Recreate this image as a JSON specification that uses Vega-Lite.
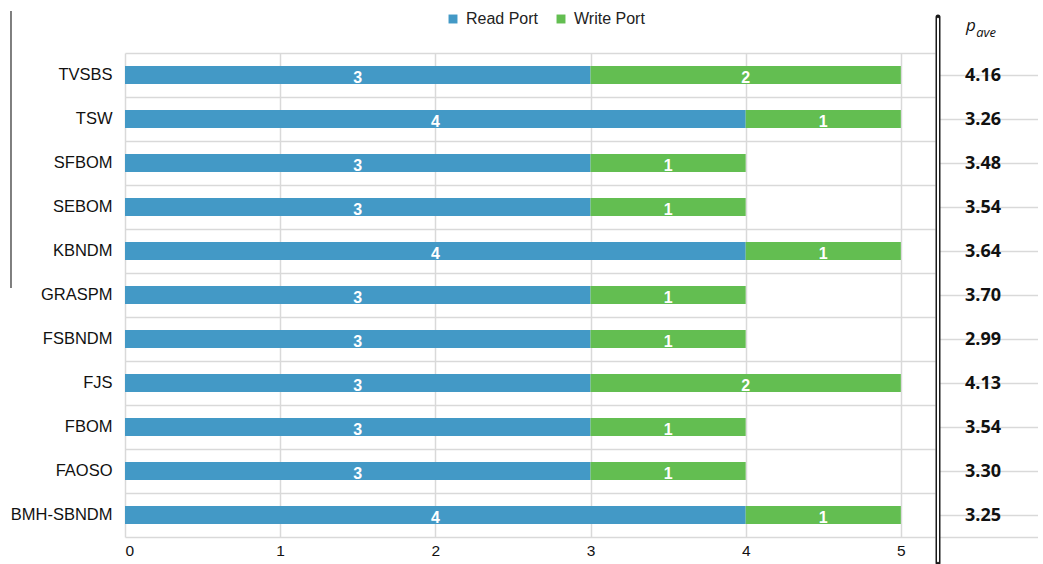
{
  "$schema": "https://vega.github.io/schema/vega-lite/v6.json",
  "background": "white",
  "padding": {"left": 10, "top": 10, "right": 0, "bottom": 0},
  "config": {
    "view": {"stroke": null},
    "font": "Liberation Sans",
    "concat": {"spacing": 0}
  },
  "datasets": {
    "ports": [
      {"algo": "TVSBS", "port": "Read Port", "ports": 3},
      {"algo": "TVSBS", "port": "Write Port", "ports": 2},
      {"algo": "TSW", "port": "Read Port", "ports": 4},
      {"algo": "TSW", "port": "Write Port", "ports": 1},
      {"algo": "SFBOM", "port": "Read Port", "ports": 3},
      {"algo": "SFBOM", "port": "Write Port", "ports": 1},
      {"algo": "SEBOM", "port": "Read Port", "ports": 3},
      {"algo": "SEBOM", "port": "Write Port", "ports": 1},
      {"algo": "KBNDM", "port": "Read Port", "ports": 4},
      {"algo": "KBNDM", "port": "Write Port", "ports": 1},
      {"algo": "GRASPM", "port": "Read Port", "ports": 3},
      {"algo": "GRASPM", "port": "Write Port", "ports": 1},
      {"algo": "FSBNDM", "port": "Read Port", "ports": 3},
      {"algo": "FSBNDM", "port": "Write Port", "ports": 1},
      {"algo": "FJS", "port": "Read Port", "ports": 3},
      {"algo": "FJS", "port": "Write Port", "ports": 2},
      {"algo": "FBOM", "port": "Read Port", "ports": 3},
      {"algo": "FBOM", "port": "Write Port", "ports": 1},
      {"algo": "FAOSO", "port": "Read Port", "ports": 3},
      {"algo": "FAOSO", "port": "Write Port", "ports": 1},
      {"algo": "BMH-SBNDM", "port": "Read Port", "ports": 4},
      {"algo": "BMH-SBNDM", "port": "Write Port", "ports": 1}
    ],
    "pave": [
      {"algo": "TVSBS", "pave": 4.16},
      {"algo": "TSW", "pave": 3.26},
      {"algo": "SFBOM", "pave": 3.48},
      {"algo": "SEBOM", "pave": 3.54},
      {"algo": "KBNDM", "pave": 3.64},
      {"algo": "GRASPM", "pave": 3.70},
      {"algo": "FSBNDM", "pave": 2.99},
      {"algo": "FJS", "pave": 4.13},
      {"algo": "FBOM", "pave": 3.54},
      {"algo": "FAOSO", "pave": 3.30},
      {"algo": "BMH-SBNDM", "pave": 3.25}
    ]
  },
  "hconcat": [
    {
      "width": 810,
      "height": 484,
      "resolve": {"scale": {"y": "independent"}},
      "layer": [
        {
          "layer": [
            {
              "data": {"name": "ports"},
              "mark": {"type": "bar", "size": 18},
              "encoding": {
                "y": {
                  "field": "algo", "type": "nominal",
                  "sort": ["TVSBS", "TSW", "SFBOM", "SEBOM", "KBNDM", "GRASPM", "FSBNDM", "FJS", "FBOM", "FAOSO", "BMH-SBNDM"],
                  "scale": {"paddingInner": 0, "paddingOuter": 0},
                  "axis": {
                    "title": null, "domain": false, "ticks": false, "grid": true, "bandPosition": 0,
                    "gridColor": "#d9d9d9", "gridWidth": 1.5,
                    "labelFontSize": 16.5, "labelColor": "#111", "labelPadding": 13
                  }
                },
                "x": {
                  "field": "ports", "type": "quantitative", "stack": "zero",
                  "scale": {"domain": [0, 5.22], "nice": false},
                  "axis": {
                    "title": null, "values": [0, 1, 2, 3, 4, 5], "format": "d",
                    "ticks": false, "grid": true, "gridColor": "#d9d9d9", "gridWidth": 1.5,
                    "domain": true, "domainColor": "#d9d9d9", "domainWidth": 1.5,
                    "labelFontSize": 15.5, "labelColor": "#111", "labelPadding": 6
                  }
                },
                "color": {
                  "field": "port", "type": "nominal",
                  "scale": {"domain": ["Read Port", "Write Port"], "range": ["#4399C6", "#63BE51"]},
                  "legend": {
                    "orient": "none", "legendX": 320, "legendY": -42, "direction": "horizontal",
                    "title": null, "symbolType": "square", "symbolSize": 80, "symbolStrokeWidth": 0,
                    "labelFontSize": 16, "labelColor": "#222", "columnPadding": 14, "labelOffset": 5
                  }
                }
              }
            },
            {
              "data": {"name": "ports"},
              "transform": [
                {"stack": "ports", "groupby": ["algo"], "sort": [{"field": "port", "order": "ascending"}], "as": ["p0", "p1"]},
                {"fold": ["p0", "p1"], "as": ["edge", "pos"]},
                {"aggregate": [{"op": "mean", "field": "pos", "as": "mid"}], "groupby": ["algo", "port", "ports"]}
              ],
              "mark": {"type": "text", "color": "white", "fontWeight": "bold", "fontSize": 16, "baseline": "middle", "dy": 3},
              "encoding": {
                "y": {"field": "algo", "type": "nominal", "sort": ["TVSBS", "TSW", "SFBOM", "SEBOM", "KBNDM", "GRASPM", "FSBNDM", "FJS", "FBOM", "FAOSO", "BMH-SBNDM"]},
                "x": {"field": "mid", "type": "quantitative"},
                "text": {"field": "ports", "type": "quantitative"}
              }
            }
          ]
        },
        {
          "data": {"values": [{"edge": "left"}]},
          "mark": {"type": "rule", "color": "#555", "strokeWidth": 1.5, "clip": false},
          "encoding": {
            "x": {"datum": -0.7347, "type": "quantitative"},
            "y": {"datum": 0.5145, "type": "quantitative", "scale": {"domain": [0, 1], "nice": false}, "axis": null},
            "y2": {"datum": 1.0868}
          }
        }
      ]
    },
    {
      "width": 100,
      "height": 484,
      "title": {
        "text": "p", "subtitle": "\u200b\u00a0\u00a0\u00a0ave",
        "anchor": "start", "frame": "group", "dx": 28,
        "font": "Open Sans", "fontSize": 17, "fontStyle": "italic", "fontWeight": "normal", "color": "#111",
        "subtitleFont": "Open Sans", "subtitleFontSize": 13, "subtitleFontStyle": "italic", "subtitleColor": "#111",
        "subtitlePadding": -8, "offset": -27
      },
      "resolve": {"scale": {"y": "independent"}},
      "layer": [
        {
          "data": {"name": "pave"},
          "mark": {"type": "text", "font": "Open Sans", "fontWeight": "bold", "fontSize": 18, "color": "#111", "baseline": "middle", "dy": 1},
          "encoding": {
            "y": {
              "field": "algo", "type": "nominal",
              "sort": ["TVSBS", "TSW", "SFBOM", "SEBOM", "KBNDM", "GRASPM", "FSBNDM", "FJS", "FBOM", "FAOSO", "BMH-SBNDM"],
              "scale": {"paddingInner": 0, "paddingOuter": 0},
              "axis": {
                "title": null, "labels": false, "ticks": false, "domain": false, "grid": true, "bandPosition": 0,
                "gridColor": "#d9d9d9", "gridWidth": 1.5, "minExtent": 0, "maxExtent": 0
              }
            },
            "x": {
              "datum": 0.45, "type": "quantitative",
              "scale": {"domain": [0, 1], "nice": false},
              "axis": {
                "title": null, "labels": false, "ticks": false, "grid": false,
                "domain": true, "domainColor": "#d9d9d9", "domainWidth": 1.5, "minExtent": 0, "maxExtent": 0
              }
            },
            "text": {"field": "pave", "type": "quantitative", "format": ".2f"}
          }
        },
        {
          "layer": [
            {
              "data": {"values": [{"edge": "divider"}]},
              "mark": {"type": "rule", "color": "#1a1a1a", "strokeWidth": 5, "strokeCap": "round", "clip": false},
              "encoding": {
                "x": {"datum": 0, "type": "quantitative"},
                "y": {"datum": -0.0537, "type": "quantitative", "scale": {"domain": [0, 1], "nice": false}, "axis": null},
                "y2": {"datum": 1.0744}
              }
            },
            {
              "data": {"values": [{"edge": "divider"}]},
              "mark": {"type": "rule", "color": "white", "strokeWidth": 2, "strokeCap": "round", "clip": false},
              "encoding": {
                "x": {"datum": 0, "type": "quantitative"},
                "y": {"datum": -0.05, "type": "quantitative"},
                "y2": {"datum": 1.071}
              }
            }
          ]
        }
      ]
    }
  ]
}
